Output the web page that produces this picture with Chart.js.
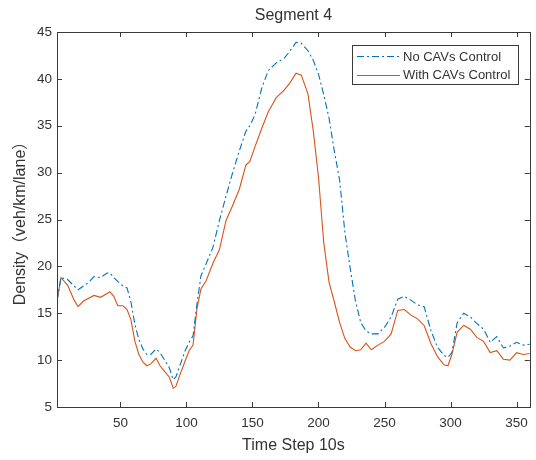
<!DOCTYPE html>
<html>
<head>
<meta charset="utf-8">
<script src="https://cdn.jsdelivr.net/npm/chart.js@4"></script>
<style>
  html, body { margin: 0; padding: 0; background: #fff; }
  #wrap { width: 536px; height: 460px; }
</style>
</head>
<body>
<div id="wrap"><canvas id="segChart" width="536" height="460"></canvas></div>
<script>
// time steps (10 s each) and densities
const steps = [2, 5, 10, 15, 18, 22, 26, 30, 35, 40, 42, 45, 48, 52, 55, 58, 61, 64, 67, 70,
  73, 77, 80, 84, 87, 90, 92, 95, 99, 102, 105, 108, 111, 115, 120, 125, 130, 135, 140, 145,
  148, 152, 157, 162, 168, 174, 178, 183, 187, 192, 196, 200, 204, 208, 212, 216, 220, 224, 228, 232,
  236, 240, 245, 250, 255, 260, 265, 270, 275, 280, 285, 290, 295, 298, 301, 305, 310, 315, 320, 325,
  330, 335, 340, 345, 350, 355, 360];

const noCavs = [16.3, 18.8, 18.6, 17.9, 17.5, 17.9, 18.3, 18.9, 18.8, 19.3, 19.3, 18.8, 18.4, 17.9, 17.7, 16.2, 13.8, 12.2, 11.2, 10.6,
  10.6, 11.2, 10.8, 9.9, 9.2, 7.9, 8.2, 9.4, 11.0, 11.9, 12.6, 16.0, 19.0, 20.3, 22.0, 24.9, 27.5, 30.0, 32.3, 34.4,
  35.0, 36.2, 39.0, 40.9, 41.7, 42.2, 42.9, 43.9, 43.8, 43.0, 42.0, 40.5, 38.3, 35.8, 32.3, 29.2, 23.6, 19.8, 16.3, 14.0,
  13.1, 12.8, 12.8, 13.5, 14.6, 16.5, 16.8, 16.4, 15.9, 15.7, 13.2, 11.4, 10.5, 10.3, 10.8, 14.0, 15.0, 14.6, 13.9, 13.3,
  11.9, 12.5, 11.3, 11.5, 11.9, 11.6, 11.7];

const withCavs = [16.3, 18.8, 18.0, 16.4, 15.7, 16.3, 16.6, 16.9, 16.7, 17.1, 17.3, 16.8, 15.8, 15.8, 15.4, 14.3, 12.0, 10.6, 9.8, 9.4,
  9.6, 10.2, 9.4, 8.7, 8.2, 7.0, 7.2, 8.4, 9.9, 11.0, 11.6, 15.5, 17.6, 18.5, 20.3, 21.8, 24.9, 26.5, 28.2, 30.8,
  31.2, 32.8, 34.7, 36.5, 38.0, 38.8, 39.5, 40.6, 40.4, 38.4, 34.5, 29.5, 22.5, 18.3, 16.2, 14.0, 12.3, 11.4, 11.0, 11.1,
  11.8, 11.1, 11.6, 12.0, 12.8, 15.3, 15.4, 14.8, 14.4, 13.7, 11.8, 10.4, 9.5, 9.4, 10.6, 13.0, 13.7, 13.3, 12.4, 12.0,
  10.8, 11.0, 10.1, 10.0, 10.8, 10.6, 10.7];

const xTicks = [50, 100, 150, 200, 250, 300, 350];
const yTicks = [5, 10, 15, 20, 25, 30, 35, 40, 45];

const seriesNames = ["No CAVs Control", "With CAVs Control"];
const colores = ["#0072BD", "#D95319"];

const fuente = "'Liberation Sans', Arial, 'Noto Sans CJK SC', sans-serif";
const gris = "#333333";

// caja, marcas hacia dentro, títulos y leyenda al estilo MATLAB
const estiloMatlab = {
    id: "estiloMatlab",
    afterDraw(chart) {
        const ctx = chart.ctx;
        const a = chart.chartArea;
        const sx = chart.scales.x;
        const sy = chart.scales.y;
        ctx.save();
        ctx.strokeStyle = "#3a3a3a";
        ctx.lineWidth = 1;
        ctx.strokeRect(Math.round(a.left) + 0.5, Math.round(a.top) + 0.5,
            Math.round(a.right - a.left), Math.round(a.bottom - a.top));

        ctx.beginPath();
        xTicks.forEach(v => {
            const px = Math.round(sx.getPixelForValue(v)) + 0.5;
            ctx.moveTo(px, a.bottom); ctx.lineTo(px, a.bottom - 5);
            ctx.moveTo(px, a.top); ctx.lineTo(px, a.top + 5);
        });
        yTicks.forEach(v => {
            const py = Math.round(sy.getPixelForValue(v)) + 0.5;
            ctx.moveTo(a.left, py); ctx.lineTo(a.left + 5, py);
            ctx.moveTo(a.right, py); ctx.lineTo(a.right - 5, py);
        });
        ctx.stroke();

        // títulos
        ctx.fillStyle = gris;
        ctx.textAlign = "center";
        ctx.textBaseline = "middle";
        const cx = (a.left + a.right) / 2;
        ctx.font = "16px " + fuente;
        ctx.fillText("Segment 4", cx, 16);
        ctx.fillText("Time Step 10s", cx, 446);
        ctx.save();
        ctx.translate(21, (a.top + a.bottom) / 2);
        ctx.rotate(-Math.PI / 2);
        ctx.fillText("Density（veh/km/lane）", 0, 0);
        ctx.restore();

        // leyenda
        const lx = 352, ly = 45, lw = 166, lh = 39;
        ctx.fillStyle = "#fff";
        ctx.fillRect(lx, ly, lw, lh);
        ctx.strokeStyle = "#3a3a3a";
        ctx.strokeRect(lx + 0.5, ly + 0.5, lw, lh);
        ctx.font = "13px " + fuente;
        ctx.textAlign = "left";
        seriesNames.forEach((nombre, i) => {
            const yy = ly + 11 + i * 18.5;
            ctx.strokeStyle = colores[i];
            ctx.lineWidth = 1;
            ctx.setLineDash(i === 0 ? [7, 3, 2, 3] : []);
            ctx.beginPath();
            ctx.moveTo(lx + 5, Math.round(yy) + 0.5);
            ctx.lineTo(lx + 48, Math.round(yy) + 0.5);
            ctx.stroke();
            ctx.setLineDash([]);
            ctx.fillStyle = gris;
            ctx.fillText(nombre, lx + 51, yy + 1);
        });
        ctx.restore();
    }
};

const ctx = document.getElementById("segChart").getContext("2d");
const segChart = new Chart(ctx, {
    type: "line",
    data: {
        datasets: [{
            label: seriesNames[0],
            data: steps.map((s, i) => ({ x: s, y: noCavs[i] })),
            borderColor: colores[0],
            borderWidth: 1.1,
            borderDash: [7, 3, 2, 3],
            pointRadius: 0,
            tension: 0
        }, {
            label: seriesNames[1],
            data: steps.map((s, i) => ({ x: s, y: withCavs[i] })),
            borderColor: colores[1],
            borderWidth: 1.1,
            pointRadius: 0,
            tension: 0
        }]
    },
    options: {
        responsive: false,
        animation: false,
        layout: { padding: { top: 32, right: 5, left: 0, bottom: 0 } },
        plugins: {
            legend: { display: false },
            title: { display: false },
            tooltip: { enabled: false }
        },
        scales: {
            x: {
                type: "linear",
                min: 2,
                max: 360,
                afterBuildTicks: s => { s.ticks = xTicks.map(v => ({ value: v })); },
                afterFit: s => { s.height = 53; },
                grid: { display: false, drawTicks: false },
                border: { display: false },
                ticks: {
                    padding: 8,
                    color: gris,
                    font: { family: fuente, size: 13.5 },
                    maxRotation: 0
                }
            },
            y: {
                min: 5,
                max: 45,
                afterBuildTicks: s => { s.ticks = yTicks.map(v => ({ value: v })); },
                afterFit: s => { s.width = 57; },
                grid: { display: false, drawTicks: false },
                border: { display: false },
                ticks: {
                    padding: 5,
                    color: gris,
                    font: { family: fuente, size: 13.5 }
                }
            }
        }
    },
    plugins: [estiloMatlab]
});
</script>
</body>
</html>
